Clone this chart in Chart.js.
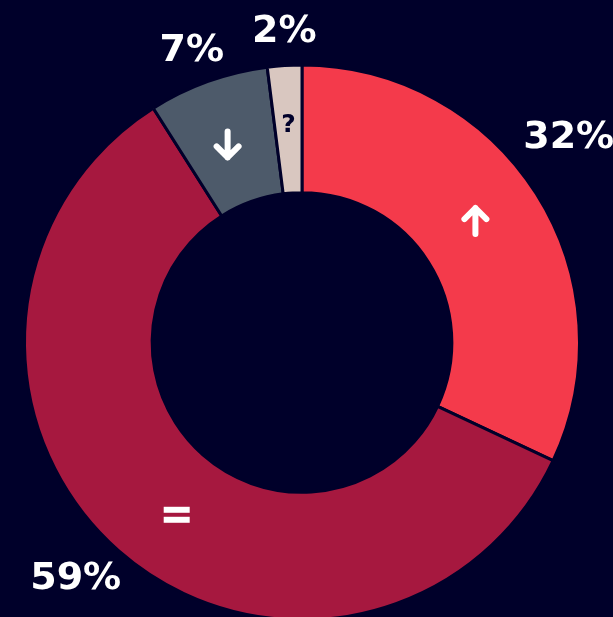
<!DOCTYPE html>
<html>
<head>
<meta charset="utf-8">
<script src="https://cdn.jsdelivr.net/npm/chart.js@4"></script>
<style>
  html, body { margin: 0; padding: 0; background: #00002a; overflow: hidden; }
  #wrap { width: 613px; height: 640px; }
</style>
</head>
<body>
<div id="wrap"><canvas id="donutChart" width="613" height="640"></canvas></div>
<script>
const categories = ['up', 'same', 'down', 'unknown'];
const shares = [32, 59, 7, 2];
const icons = ['up', 'equal', 'down', '?'];
const sliceColors = ['#f43a4b', '#a6183f', '#4d5a6a', '#d9c7c0'];
const iconColors = ['#ffffff', '#ffffff', '#ffffff', '#00002a'];

// small hand nudges so the labels sit where the original put them
const labelNudge = [[2, -36], [-19, 1], [-4, 4], [2, 3]];
const iconNudge = [[-7, -7], [16, 12], [-2, 3], [0, -4]];

function drawIcon(ctx, kind, x, y, color) {
    ctx.strokeStyle = color;
    ctx.fillStyle = color;
    ctx.lineWidth = 6;
    ctx.lineCap = 'round';
    ctx.lineJoin = 'round';
    if (kind === 'up' || kind === 'down') {
        const d = kind === 'up' ? -1 : 1;
        ctx.beginPath();
        ctx.moveTo(x, y - d * 13);
        ctx.lineTo(x, y + d * 13);
        ctx.moveTo(x - 11, y + d * 2);
        ctx.lineTo(x, y + d * 13);
        ctx.lineTo(x + 11, y + d * 2);
        ctx.stroke();
    } else if (kind === 'equal') {
        ctx.fillRect(x - 13, y - 8, 26, 6);
        ctx.fillRect(x - 13, y + 2, 26, 6);
    } else {
        ctx.font = 'bold 25px "DejaVu Sans"';
        ctx.fillText(kind, x, y);
    }
}

const sliceLabels = {
    id: 'sliceLabels',
    afterDatasetsDraw(chart) {
        const ctx = chart.ctx;
        const arcs = chart.getDatasetMeta(0).data;
        ctx.save();
        ctx.textAlign = 'center';
        ctx.textBaseline = 'middle';
        arcs.forEach((arc, i) => {
            const mid = (arc.startAngle + arc.endAngle) / 2;
            // percentage outside the ring
            const rOut = arc.outerRadius + 36;
            ctx.fillStyle = '#ffffff';
            ctx.font = 'bold 38px "DejaVu Sans"';
            ctx.fillText(shares[i] + '%',
                arc.x + Math.cos(mid) * rOut + labelNudge[i][0],
                arc.y + Math.sin(mid) * rOut + labelNudge[i][1]);
            // icon in the middle of the ring
            const rIn = (arc.innerRadius + arc.outerRadius) / 2;
            drawIcon(ctx, icons[i],
                arc.x + Math.cos(mid) * rIn + iconNudge[i][0],
                arc.y + Math.sin(mid) * rIn + iconNudge[i][1],
                iconColors[i]);
        });
        ctx.restore();
    }
};

const ctx = document.getElementById('donutChart').getContext('2d');
new Chart(ctx, {
    type: 'doughnut',
    data: {
        labels: categories,
        datasets: [{
            data: shares,
            backgroundColor: sliceColors,
            borderColor: '#00002a',
            borderWidth: 3,
            hoverOffset: 0
        }]
    },
    options: {
        responsive: false,
        animation: false,
        cutout: '54%',
        layout: {
            padding: { left: 23, right: 32, top: 62, bottom: 17 }
        },
        plugins: {
            legend: { display: false },
            tooltip: { enabled: false }
        }
    },
    plugins: [sliceLabels]
});
</script>
</body>
</html>
